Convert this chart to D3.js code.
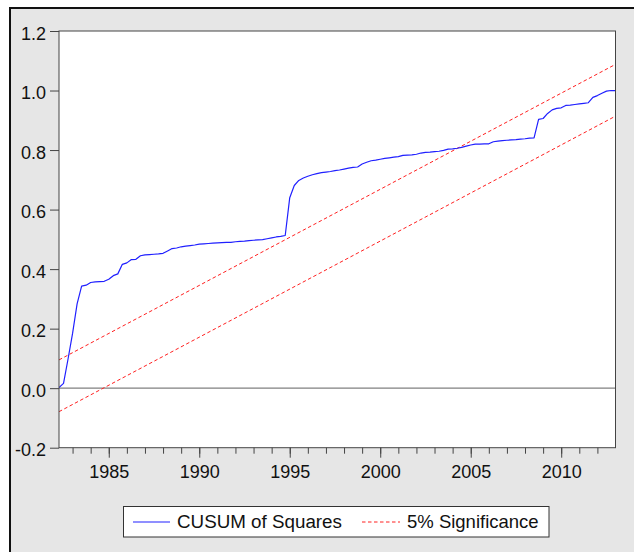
<!DOCTYPE html>
<html>
<head>
<meta charset="utf-8">
<script src="https://cdn.jsdelivr.net/npm/d3@7"></script>
<style>
  html, body { margin: 0; padding: 0; background: #ffffff; }
  svg { display: block; }
  text { font-family: "Liberation Sans", Arial, sans-serif; fill: #111; }
</style>
</head>
<body>
<svg id="chart" width="634" height="552"></svg>
<script>
// ---- data (quarterly, 1982Q1 .. 2012Q4, plotted at quarter end) ----
const firstQuarter = { year: 1982, q: 1 };
const cusumSq = [
  0.002, 0.016, 0.098, 0.184, 0.283, 0.343, 0.346, 0.355, 0.357, 0.358,
  0.359, 0.366, 0.378, 0.384, 0.416, 0.421, 0.432, 0.433, 0.445, 0.448,
  0.449, 0.450, 0.451, 0.453, 0.461, 0.469, 0.471, 0.475, 0.477, 0.479,
  0.481, 0.484, 0.485, 0.486, 0.487, 0.488, 0.489, 0.490, 0.490, 0.492,
  0.493, 0.494, 0.496, 0.497, 0.498, 0.499, 0.502, 0.505, 0.508, 0.510,
  0.513, 0.640, 0.681, 0.698, 0.706, 0.712, 0.717, 0.721, 0.724, 0.726,
  0.728, 0.731, 0.733, 0.736, 0.739, 0.742, 0.743, 0.753, 0.759, 0.764,
  0.766, 0.769, 0.772, 0.774, 0.776, 0.778, 0.782, 0.783, 0.784, 0.786,
  0.790, 0.792, 0.793, 0.795, 0.796, 0.799, 0.803, 0.804, 0.806, 0.809,
  0.813, 0.817, 0.820, 0.820, 0.821, 0.821, 0.828, 0.830, 0.832, 0.833,
  0.834, 0.835, 0.837, 0.838, 0.840, 0.841, 0.903, 0.906, 0.923, 0.935,
  0.940, 0.942, 0.950, 0.951, 0.953, 0.955, 0.957, 0.959, 0.977, 0.983,
  0.991, 0.998, 1.000, 1.000
];
// 5% significance bounds (straight lines: first and last observation)
const boundDates = [1982.25, 2013.0];
const upperBound = [0.095, 1.088];
const lowerBound = [-0.079, 0.914];

const yTicks = [-0.2, 0.0, 0.2, 0.4, 0.6, 0.8, 1.0, 1.2];
const xMajorTicks = [1985, 1990, 1995, 2000, 2005, 2010];
const xMinorTicks = d3.range(1983, 2013);
const legendLabels = ["CUSUM of Squares", "5% Significance"];

// ---- layout ----
const svg = d3.select("#chart");
const plot = { left: 59, top: 31, right: 615.5, bottom: 447.7 };
const FONT = "'Liberation Sans', Arial, sans-serif";
const locale = d3.formatLocale({ decimal: ".", thousands: ",", grouping: [3], currency: ["", ""], minus: "-" });

const x = d3.scaleLinear().domain([1982.25, 2013.0]).range([plot.left, plot.right]);
const y = d3.scaleLinear().domain([-0.2, 1.2]).range([plot.bottom, plot.top]);

// outer frame
svg.append("rect")
  .attr("x", 10).attr("y", 8).attr("width", 640).attr("height", 560)
  .attr("fill", "#e6e6e6").attr("stroke", "#111").attr("stroke-width", 2);

// plot background
svg.append("rect")
  .attr("x", plot.left).attr("y", plot.top)
  .attr("width", plot.right - plot.left).attr("height", plot.bottom - plot.top)
  .attr("fill", "#ffffff");

const series = cusumSq.map((v, i) => {
  const qIndex = (firstQuarter.q - 1) + i;
  const yr = firstQuarter.year + Math.floor(qIndex / 4);
  const q = (qIndex % 4) + 1;
  return { date: yr + q / 4, value: v };
});

svg.append("clipPath").attr("id", "clip")
  .append("rect")
  .attr("x", plot.left).attr("y", plot.top)
  .attr("width", plot.right - plot.left).attr("height", plot.bottom - plot.top);

const g = svg.append("g").attr("clip-path", "url(#clip)");

// zero line
g.append("line")
  .attr("x1", plot.left).attr("x2", plot.right)
  .attr("y1", y(0)).attr("y2", y(0))
  .attr("stroke", "#808080").attr("stroke-width", 1.2);

const line = d3.line().x(d => x(d.date)).y(d => y(d.value));

[upperBound, lowerBound].forEach(b => {
  const pts = boundDates.map((d, i) => ({ date: d, value: b[i] }));
  g.append("path").datum(pts)
    .attr("d", line)
    .attr("fill", "none")
    .attr("stroke", "#ff2020")
    .attr("stroke-width", 1)
    .attr("stroke-dasharray", "3.5,2.5");
});

g.append("path").datum(series)
  .attr("d", line)
  .attr("fill", "none")
  .attr("stroke", "#2020ff")
  .attr("stroke-width", 1.2)
  .attr("stroke-linejoin", "round");

// frame
svg.append("rect")
  .attr("x", plot.left).attr("y", plot.top)
  .attr("width", plot.right - plot.left).attr("height", plot.bottom - plot.top)
  .attr("fill", "none").attr("stroke", "#444").attr("stroke-width", 1);

// y axis
const yAxis = svg.append("g")
  .attr("transform", `translate(${plot.left},0)`)
  .call(d3.axisLeft(y).tickValues(yTicks).tickFormat(locale.format(".1f")).tickSize(9));
yAxis.select(".domain").remove();
yAxis.selectAll(".tick line").attr("stroke", "#444");
yAxis.selectAll(".tick text")
  .attr("x", -13).attr("dy", "8px")
  .style("font-size", "18px")
  .style("font-family", FONT)
  .attr("fill", "#111");

// x axis minor ticks
const xMinor = svg.append("g")
  .attr("transform", `translate(0,${plot.bottom})`)
  .call(d3.axisBottom(x).tickValues(xMinorTicks).tickFormat("").tickSize(6));
xMinor.select(".domain").remove();
xMinor.selectAll(".tick line").attr("stroke", "#444");

// x axis major ticks
const xMajor = svg.append("g")
  .attr("transform", `translate(0,${plot.bottom})`)
  .call(d3.axisBottom(x).tickValues(xMajorTicks).tickFormat(d3.format("d")).tickSize(10));
xMajor.select(".domain").remove();
xMajor.selectAll(".tick line").attr("stroke", "#444");
xMajor.selectAll(".tick text")
  .attr("y", 30.5).attr("dy", 0)
  .style("font-size", "18px")
  .style("font-family", FONT)
  .attr("fill", "#111");

// legend
const lg = svg.append("g");
lg.append("rect")
  .attr("x", 123.5).attr("y", 506.5).attr("width", 425.5).attr("height", 30.5)
  .attr("fill", "#ffffff").attr("stroke", "#333").attr("stroke-width", 1);
lg.append("line")
  .attr("x1", 133).attr("x2", 170).attr("y1", 522).attr("y2", 522)
  .attr("stroke", "#2020ff").attr("stroke-width", 1.2);
lg.append("text").attr("x", 177).attr("y", 528)
  .style("font-size", "18.8px").text(legendLabels[0]);
lg.append("line")
  .attr("x1", 362).attr("x2", 400).attr("y1", 522).attr("y2", 522)
  .attr("stroke", "#ff2020").attr("stroke-width", 1)
  .attr("stroke-dasharray", "3.5,2.5");
lg.append("text").attr("x", 407).attr("y", 528)
  .style("font-size", "18.5px").text(legendLabels[1]);
</script>
</body>
</html>
